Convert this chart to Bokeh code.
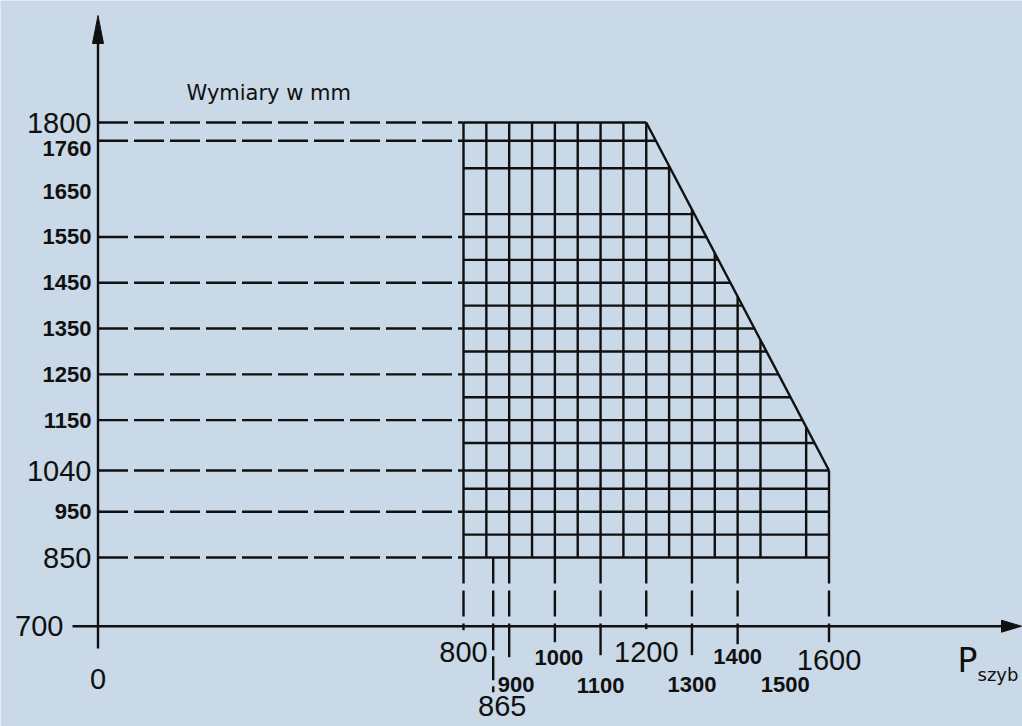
from bokeh.plotting import figure
from bokeh.models import Range1d
from bokeh.core.properties import value
from bokeh.embed import file_html
from bokeh.resources import INLINE

# ---------------- data ----------------
y_tick_values = [1800, 1760, 1650, 1550, 1450, 1350, 1250, 1150, 1040, 950, 850, 700]
y_tick_labels = ["1800", "1760", "1650", "1550", "1450", "1350", "1250", "1150", "1040", "950", "850", "700"]
y_tick_big = [True, False, False, False, False, False, False, False, True, False, True, True]
y_dashed_levels = [1800, 1760, 1550, 1450, 1350, 1250, 1150, 1040, 950, 850]

x_tick_values = [0, 800, 865, 900, 1000, 1100, 1200, 1300, 1400, 1500, 1600]
x_tick_labels = ["0", "800", "865", "900", "1000", "1100", "1200", "1300", "1400", "1500", "1600"]
x_tick_big = [True, True, True, False, False, False, True, False, False, False, True]
x_dashed_drops = [800, 865, 900, 1000, 1100, 1200, 1300, 1400, 1600]

grid_x = [800, 850, 900, 950, 1000, 1050, 1100, 1150, 1200, 1250, 1300, 1350, 1400, 1450, 1550, 1600]
grid_y = [1800, 1760, 1700, 1600, 1550, 1500, 1450, 1400, 1350, 1300, 1250, 1200, 1150, 1100, 1040, 1000, 950, 900, 850]

w_min, w_max = 800, 1600
h_min, h_max = 850, 1800
w_knee = 1200
h_at_wmax = 1040
axis_x_val = 0
axis_y_val = 700

title_text = "Wymiary w mm"
xlabel_main = "P"
xlabel_sub = "szyb"

# ---------------- styles / layout (pixels) ----------------
BG = "#c9d9e7"
INK = "#101010"
FONT = "Liberation Sans"
LW = 2.4
W, H = 1022, 726
PAGE = 0
SX = 0.45688       # px per unit (x)
SY = 0.4579        # px per unit (y)
X0_PAGE = 97.5     # page x of value 0
Y1800_PAGE = 122.0 # page y of value 1800


def px2x(px):
    return (px - X0_PAGE) / SX


def py2y(py):
    return 1800 - (py - Y1800_PAGE) / SY


def top_at(w):
    if w <= w_knee:
        return h_max
    return h_max - (w - w_knee) * (h_max - h_at_wmax) / (w_max - w_knee)


def right_at(h):
    if h <= h_at_wmax:
        return w_max
    return w_knee + (h_max - h) * (w_max - w_knee) / (h_max - h_at_wmax)


p = figure(width=W, height=H, output_backend="svg", toolbar_location=None,
           x_axis_type=None, y_axis_type=None, min_border=0,
           x_range=Range1d(px2x(PAGE), px2x(PAGE + W)),
           y_range=Range1d(py2y(PAGE + H), py2y(PAGE)))
p.grid.visible = False
p.outline_line_color = None
p.background_fill_color = BG
p.border_fill_color = BG

# ---- dashed guide lines from y axis to the grid ----
p.multi_line(xs=[[axis_x_val, w_min] for _ in y_dashed_levels],
             ys=[[v, v] for v in y_dashed_levels],
             line_color=INK, line_width=2.4, line_dash="30 6")

# ---- dashed drops from grid bottom to x axis ----
p.multi_line(xs=[[v, v] for v in x_dashed_drops],
             ys=[[h_min, axis_y_val] for _ in x_dashed_drops],
             line_color=INK, line_width=2.4, line_dash="26 7")

# solid tick extensions below the axis (px below axis)
tick_ext_px = {800: 4, 865: 0, 900: 31, 1000: 16, 1100: 29, 1200: 3, 1300: 29, 1400: 18, 1600: 16}
p.multi_line(xs=[[v, v] for v in x_dashed_drops],
             ys=[[axis_y_val, axis_y_val - tick_ext_px[v] / SY] for v in x_dashed_drops],
             line_color=INK, line_width=2.4)
# 865 line continues dashed down to its label
p.line(x=[865, 865], y=[axis_y_val, axis_y_val - 66 / SY], line_color=INK,
       line_width=2.4, line_dash="24 6")

# ---- grid inside the admissible region ----
p.multi_line(xs=[[v, v] for v in grid_x],
             ys=[[h_min, top_at(v)] for v in grid_x],
             line_color=INK, line_width=LW)
p.multi_line(xs=[[w_min, right_at(v)] for v in grid_y],
             ys=[[v, v] for v in grid_y],
             line_color=INK, line_width=LW)
# sloped boundary
p.line(x=[w_knee, w_max], y=[h_max, h_at_wmax], line_color=INK, line_width=LW)

# ---- axes with arrows ----
ux = 1 / SX
uy = 1 / SY
y_tip = py2y(15)
x_tip = px2x(1021)
p.line(x=[axis_x_val, axis_x_val], y=[py2y(648), y_tip - 10 * uy], line_color=INK, line_width=2.4)
p.line(x=[px2x(72), x_tip - 10 * ux], y=[axis_y_val, axis_y_val], line_color=INK, line_width=2.4)
p.patch(x=[axis_x_val, axis_x_val - 5.5 * ux, axis_x_val + 5.5 * ux],
        y=[y_tip, y_tip - 28 * uy, y_tip - 28 * uy], color=INK)
p.patch(x=[x_tip, x_tip - 20 * ux, x_tip - 20 * ux],
        y=[axis_y_val, axis_y_val + 6 * uy, axis_y_val - 6 * uy], color=INK)

# ---- y tick labels ----
y_label_right_px = {"700": 63}
y_label_dy_px = {"1760": 7.5}
for v, t, big in zip(y_tick_values, y_tick_labels, y_tick_big):
    right = y_label_right_px.get(t, 91)
    yy = v - y_label_dy_px.get(t, 0) / SY
    p.text(x=[px2x(right)], y=[yy], text=[t],
           text_font=value(FONT), text_font_size="29px" if big else "22px",
           text_font_style="normal" if big else "bold",
           text_align="right", text_baseline="middle", text_color=INK)

# ---- x tick labels ----
x_label_dy_px = {"0": 53, "800": 26, "865": 80, "900": 58, "1000": 31, "1100": 59,
                 "1200": 26, "1300": 58, "1400": 30, "1500": 58, "1600": 34}
x_label_dx_px = {"865": 9, "900": 7, "1000": 4, "1500": 2}
for v, t, big in zip(x_tick_values, x_tick_labels, x_tick_big):
    xx = v + x_label_dx_px.get(t, 0) / SX
    yy = axis_y_val - x_label_dy_px[t] / SY
    p.text(x=[xx], y=[yy], text=[t],
           text_font=value(FONT), text_font_size="29px" if big else "22px",
           text_font_style="normal" if big else "bold",
           text_align="center", text_baseline="middle", text_color=INK)

# ---- title and axis name ----
p.text(x=[px2x(186)], y=[py2y(92)], text=[title_text], text_font=value("DejaVu Sans"),
       text_font_size="21px", text_align="left",
       text_baseline="alphabetic", text_color=INK)
p.text(x=[px2x(957)], y=[py2y(660)], text=[xlabel_main], text_font=value("DejaVu Sans"),
       text_font_size="33px", text_align="left", text_baseline="alphabetic", text_color=INK)
p.text(x=[px2x(977)], y=[py2y(674)], text=[xlabel_sub], text_font=value("DejaVu Sans"),
       text_font_size="18px", text_align="left", text_baseline="alphabetic", text_color=INK)

open("out.html", "w").write(file_html(p, INLINE))
